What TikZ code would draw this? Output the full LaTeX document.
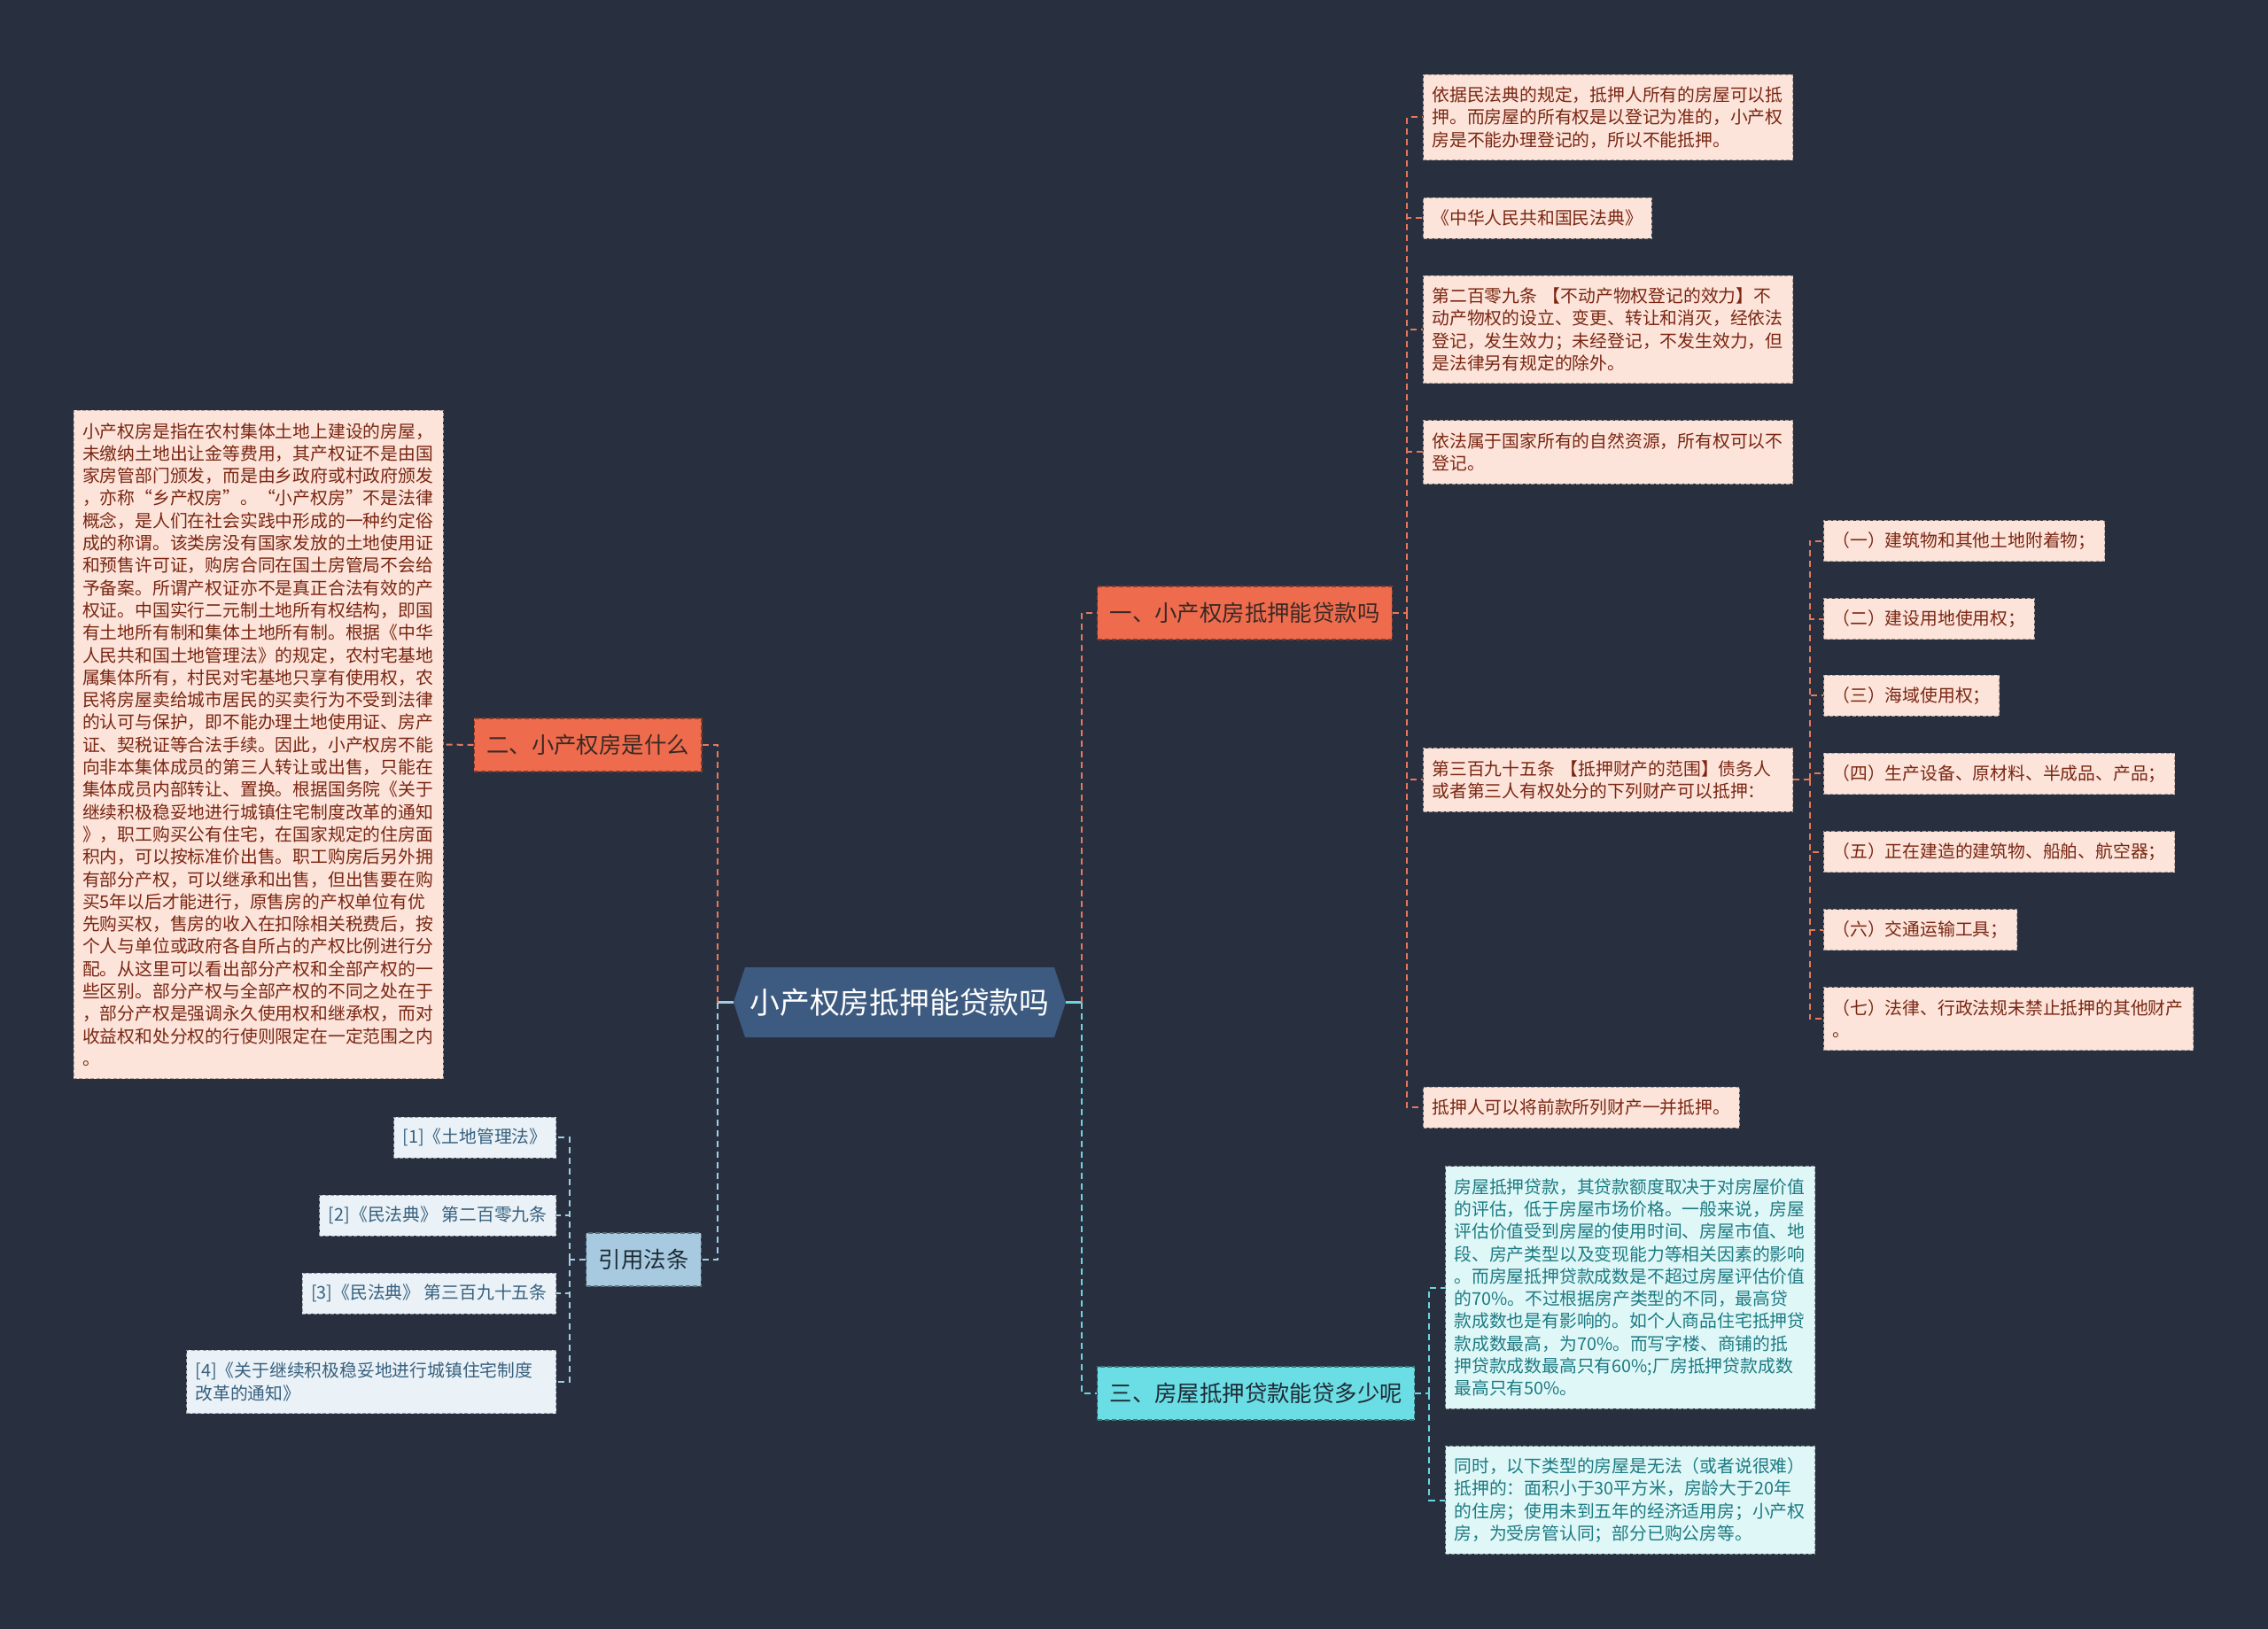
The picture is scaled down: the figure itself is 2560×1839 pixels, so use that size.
\documentclass[tikz,border=0pt]{standalone}
\usepackage{fontspec}
\setmainfont{Noto Sans CJK SC}
\definecolor{bgc}{HTML}{283040}
\definecolor{rootfill}{HTML}{3D5A80}
\definecolor{orfill}{HTML}{EE6C4D}
\definecolor{cyfill}{HTML}{6BDDE4}
\definecolor{blfill}{HTML}{A8CAE0}
\definecolor{orleaf}{HTML}{FCE4DA}
\definecolor{cyleaf}{HTML}{E0F7F8}
\definecolor{blleaf}{HTML}{EAF2F7}
\definecolor{ortext}{HTML}{7A2612}
\definecolor{cytext}{HTML}{1C7B82}
\definecolor{bltext}{HTML}{37607F}
\definecolor{orline}{HTML}{E8775A}
\definecolor{cyline}{HTML}{6AD7E0}
\definecolor{blline}{HTML}{A6CCE4}
\definecolor{brtext}{HTML}{3A2925}
\definecolor{brtextc}{HTML}{1E2B35}
\tikzset{
  base/.style={font=\fontsize{9.9pt}{12.65pt}\selectfont, inner xsep=5pt, inner ysep=0pt,
    align=left, dash pattern=on 2pt off 1.2pt, line width=0.5pt, minimum height=23pt},
  nl/.style={minimum height={23pt+(#1-1)*12.65pt}},
  wide/.style={text width=198.5pt},
  oleaf/.style={base, fill=orleaf, draw=orleaf!70!black, text=ortext},
  cleaf/.style={base, fill=cyleaf, draw=cyleaf!65!black, text=cytext},
  bleaf/.style={base, fill=blleaf, draw=blleaf!65!black, text=bltext},
  branch/.style={font=\fontsize{12.7pt}{15pt}\selectfont, inner xsep=7pt, inner ysep=0pt,
    minimum height=30pt, dash pattern=on 2.5pt off 1.5pt, line width=0.6pt},
  obranch/.style={branch, fill=orfill, draw=orfill!55!black, text=brtext},
  cbranch/.style={branch, fill=cyfill, draw=cyfill!55!black, text=brtextc},
  bbranch/.style={branch, fill=blfill, draw=blfill!55!black, text=brtextc},
  conn/.style={line width=1pt, dash pattern=on 3.5pt off 2.5pt},
  oline/.style={conn, draw=orline},
  cline/.style={conn, draw=cyline},
  bline/.style={conn, draw=blline},
}
\begin{document}
\begin{tikzpicture}[x=0.5pt,y=-0.5pt]
\fill[bgc] (0,0) rectangle (2560,1839);
\useasboundingbox (0,0) rectangle (2560,1839);

% root
\fill[rootfill] (828,1131.5) -- (841,1092) -- (1190,1092) -- (1203,1131.5) -- (1190,1171) -- (841,1171) -- cycle;
\node[font=\fontsize{16.9pt}{20pt}\selectfont, text=white, inner sep=0pt,
  minimum width=187.5pt, minimum height=39.5pt] (root) at (1015.5,1131.5) {小产权房抵押能贷款吗};

% branches
\node[obranch, anchor=west] (b1) at (1238,692) {一、小产权房抵押能贷款吗};
\node[obranch, anchor=east] (b2) at (792.5,841) {二、小产权房是什么};
\node[cbranch, anchor=west] (b3) at (1238,1573) {三、房屋抵押贷款能贷多少呢};
\node[bbranch, anchor=east] (b4) at (792,1422) {引用法条};

% branch 1 leaves
\node[oleaf, wide, nl=3, anchor=west] (L1) at (1606,132.5) {依据民法典的规定，抵押人所有的房屋可以抵\\押。而房屋的所有权是以登记为准的，小产权\\房是不能办理登记的，所以不能抵押。};
\node[oleaf, anchor=west] (L2) at (1606,246.3) {《中华人民共和国民法典》};
\node[oleaf, wide, nl=4, anchor=west] (L3) at (1606,372) {第二百零九条~【不动产物权登记的效力】不\\动产物权的设立、变更、转让和消灭，经依法\\登记，发生效力；未经登记，不发生效力，但\\是法律另有规定的除外。};
\node[oleaf, wide, nl=2, anchor=west] (L4) at (1606,510.5) {依法属于国家所有的自然资源，所有权可以不\\登记。};
\node[oleaf, wide, nl=2, anchor=west] (L5) at (1606,880.5) {第三百九十五条~【抵押财产的范围】债务人\\或者第三人有权处分的下列财产可以抵押：};
\node[oleaf, anchor=west] (L6) at (1606,1250) {抵押人可以将前款所列财产一并抵押。};

% sub leaves
\node[oleaf, anchor=west] (S1) at (2058,610.6) {（一）建筑物和其他土地附着物；};
\node[oleaf, anchor=west] (S2) at (2058,698.8) {（二）建设用地使用权；};
\node[oleaf, anchor=west] (S3) at (2058,785.3) {（三）海域使用权；};
\node[oleaf, anchor=west] (S4) at (2058,873.5) {（四）生产设备、原材料、半成品、产品；};
\node[oleaf, anchor=west] (S5) at (2058,961.7) {（五）正在建造的建筑物、船舶、航空器；};
\node[oleaf, anchor=west] (S6) at (2058,1049.8) {（六）交通运输工具；};
\node[oleaf, wide, nl=2, anchor=west] (S7) at (2058,1150.2) {（七）法律、行政法规未禁止抵押的其他财产\\。};

% branch 2 leaf
\node[oleaf, wide, nl=29, anchor=east] (big) at (500.5,840.5) {小产权房是指在农村集体土地上建设的房屋，\\未缴纳土地出让金等费用，其产权证不是由国\\家房管部门颁发，而是由乡政府或村政府颁发\\，亦称“乡产权房”。“小产权房”不是法律\\概念，是人们在社会实践中形成的一种约定俗\\成的称谓。该类房没有国家发放的土地使用证\\和预售许可证，购房合同在国土房管局不会给\\予备案。所谓产权证亦不是真正合法有效的产\\权证。中国实行二元制土地所有权结构，即国\\有土地所有制和集体土地所有制。根据《中华\\人民共和国土地管理法》的规定，农村宅基地\\属集体所有，村民对宅基地只享有使用权，农\\民将房屋卖给城市居民的买卖行为不受到法律\\的认可与保护，即不能办理土地使用证、房产\\证、契税证等合法手续。因此，小产权房不能\\向非本集体成员的第三人转让或出售，只能在\\集体成员内部转让、置换。根据国务院《关于\\继续积极稳妥地进行城镇住宅制度改革的通知\\》，职工购买公有住宅，在国家规定的住房面\\积内，可以按标准价出售。职工购房后另外拥\\有部分产权，可以继承和出售，但出售要在购\\买5年以后才能进行，原售房的产权单位有优\\先购买权，售房的收入在扣除相关税费后，按\\个人与单位或政府各自所占的产权比例进行分\\配。从这里可以看出部分产权和全部产权的一\\些区别。部分产权与全部产权的不同之处在于\\，部分产权是强调永久使用权和继承权，而对\\收益权和处分权的行使则限定在一定范围之内\\。};

% branch 3 leaves
\node[cleaf, wide, nl=10, anchor=west] (T1) at (1631,1453.5) {房屋抵押贷款，其贷款额度取决于对房屋价值\\的评估，低于房屋市场价格。一般来说，房屋\\评估价值受到房屋的使用时间、房屋市值、地\\段、房产类型以及变现能力等相关因素的影响\\。而房屋抵押贷款成数是不超过房屋评估价值\\的70\%。不过根据房产类型的不同，最高贷\\款成数也是有影响的。如个人商品住宅抵押贷\\款成数最高，为70\%。而写字楼、商铺的抵\\押贷款成数最高只有60\%;厂房抵押贷款成数\\最高只有50\%。};
\node[cleaf, wide, nl=4, anchor=west] (T2) at (1631,1693.5) {同时，以下类型的房屋是无法（或者说很难）\\抵押的：面积小于30平方米，房龄大于20年\\的住房；使用未到五年的经济适用房；小产权\\房，为受房管认同；部分已购公房等。};

% references
\node[bleaf, anchor=east] (R1) at (628,1284) {[1]《土地管理法》};
\node[bleaf, anchor=east] (R2) at (628,1372) {[2]《民法典》~第二百零九条};
\node[bleaf, anchor=east] (R3) at (628,1460) {[3]《民法典》~第三百九十五条};
\node[bleaf, wide, nl=2, anchor=east] (R4) at (628,1560) {[4]《关于继续积极稳妥地进行城镇住宅制度\\改革的通知》};

% junctions
\coordinate (jR) at ([xshift=9pt]root.east);
\coordinate (jL) at ([xshift=-9pt]root.west);
\coordinate (a1) at ([xshift=8pt]b1.east);
\coordinate (c1) at ([xshift=8pt]b3.east);
\coordinate (s1) at ([xshift=9.5pt]L5.east);
\coordinate (r1) at ([xshift=-9pt]b4.west);

% connectors
\draw[line width=1.2pt, cyline] (root.east) -- (jR);
\draw[line width=1.2pt, blline] (root.west) -- (jL);
\draw[oline] (jR) |- (b1.west);
\draw[cline] (jR) |- (b3.west);
\draw[oline] (jL) |- (b2.east);
\draw[bline] (jL) |- (b4.east);

\draw[oline] (b1.east) -- (a1);
\foreach \n in {L1,L2,L3,L4,L5,L6} \draw[oline] (a1) |- (\n.west);
\draw[oline] (L5.east) -- (s1);
\foreach \n in {S1,S2,S3,S4,S5,S6,S7} \draw[oline] (s1) |- (\n.west);
\draw[oline] (b2.west) -- (big.east);
\draw[cline] (b3.east) -- (c1);
\foreach \n in {T1,T2} \draw[cline] (c1) |- (\n.west);
\draw[bline] (b4.west) -- (r1);
\foreach \n in {R1,R2,R3,R4} \draw[bline] (r1) |- (\n.east);
\end{tikzpicture}
\end{document}
